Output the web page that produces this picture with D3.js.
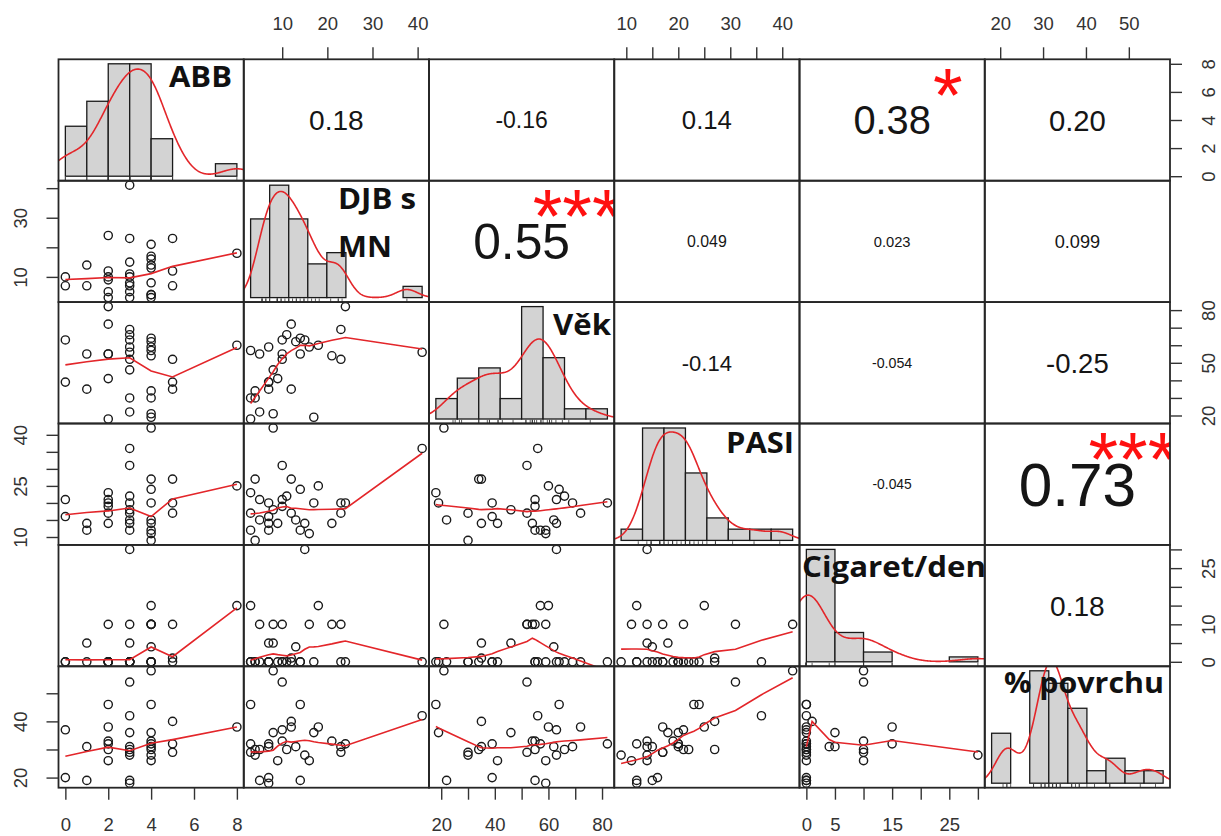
<!DOCTYPE html>
<html>
<head>
<meta charset="utf-8">
<script src="https://cdn.jsdelivr.net/npm/d3@7"></script>
<style>
  body { margin: 0; background: #fff; }
  svg text { font-family: "Liberation Sans", Arial, sans-serif; }
</style>
</head>
<body>
<script>
// one value per patient (32 rows)
var abb    = [0, 0, 1, 1, 2, 2, 2, 2, 2, 2, 3, 3, 3, 3, 3, 3, 3, 3, 3, 4, 4, 4, 4, 4, 4, 4, 4, 4, 5, 5, 5, 8];
var djb    = [10, 7, 14, 7, 24, 12, 10, 5, 9, 3, 41, 10, 15, 23, 11, 8, 3, 5, 7, 21, 17, 16, 14, 13, 8, 4, 4, 3, 23, 12, 7, 18];
var vek    = [63, 39, 55, 35, 82, 72, 55, 55, 41, 18, 56, 52, 63, 69, 66, 46, 30, 22, 59, 54, 19, 59, 64, 62, 21, 34, 30, 57, 52, 35, 39, 60];
var pasi   = [21, 16, 12, 14, 20, 17, 19, 21, 14, 23, 36, 31, 14, 20, 22, 18, 17, 15, 12, 14, 20, 11, 24, 15, 42, 27, 9, 12, 17, 27, 20, 25];
var cigs   = [0, 0, 0, 5, 0, 0, 0, 10, 0, 0, 0, 10, 30, 0, 0, 5, 0, 0, 0, 10, 0, 10, 0, 4, 10, 0, 0, 15, 10, 1, 0, 15];
var povrch = [37, 20, 19, 31, 32, 38, 33, 30, 26, 46, 42, 54, 28, 31, 30, 36, 29, 19, 18, 33, 36, 26, 46, 31, 58, 30, 28, 32, 29, 40, 32, 38];

var diagLabels = [["ABB"], ["DJB s", "MN"], ["Věk"], ["PASI"], ["Cigaret/den"], ["% povrchu"]];
var binWidths = [1, 5, 10, 5, 5, 5];

// upper triangle, row by row: (1,2) (1,3) ... (5,6)
var corLabels = ["0.18", "-0.16", "0.14", "0.38", "0.20", "0.55", "0.049", "0.023", "0.099",
                 "-0.14", "-0.054", "-0.25", "-0.045", "0.73", "0.18"];
var corStars  = ["", "", "", "*", "", "***", "", "", "", "", "", "", "", "***", ""];

var axisTicks = [[0, 2, 4, 6, 8], [10, 20, 30, 40], [20, 30, 40, 50, 60, 70, 80],
                 [10, 15, 20, 25, 30, 35, 40], [0, 5, 10, 15, 20, 25, 30], [20, 30, 40, 50]];
var xTickLabels = [[0, 2, 4, 6, 8], [10, 20, 30, 40], [20, 40, 60, 80], [10, 20, 30, 40], [0, 5, 15, 25], [20, 30, 40, 50]];
var yTickLabels = [[0, 2, 4, 6, 8], [10, 30], [20, 50, 80], [10, 25, 40], [0, 10, 25], [20, 40]];

var vars = [abb, djb, vek, pasi, cigs, povrch];
var nv = vars.length;

var width = 1221, height = 836;
var padLeft = 58.5, padTop = 59.3, pw = 185.25, ph = 121.4;
var red = "#e3262a";

var svg = d3.select("body").append("svg")
  .attr("width", width)
  .attr("height", height);
var defs = svg.append("defs");

// R pads every axis range by 4%
function padDomain(lo, hi) {
  var d = (hi - lo) * 0.04;
  return [lo - d, hi + d];
}

var xScales = vars.map(function (v, j) {
  return d3.scaleLinear().domain(padDomain(d3.min(v), d3.max(v)))
    .range([padLeft + j * pw, padLeft + (j + 1) * pw]);
});
var yScales = vars.map(function (v, i) {
  return d3.scaleLinear().domain(padDomain(d3.min(v), d3.max(v)))
    .range([padTop + (i + 1) * ph, padTop + i * ph]);
});

// stats::lowess (f = 2/3, iter = 3), port of clowess
function lowess(x, y, f, iter) {
  var n = x.length;
  var idx = d3.range(n).sort(function (a, b) { return x[a] - x[b] || a - b; });
  var X = idx.map(function (k) { return x[k]; });
  var Y = idx.map(function (k) { return y[k]; });
  var ys = new Array(n).fill(0), rw = new Array(n).fill(1),
      res = new Array(n).fill(0), w = new Array(n).fill(0);
  var ns = Math.max(Math.min(Math.round(f * n), n), 2);
  var delta = 0.01 * (X[n - 1] - X[0]);

  function lowest(xs, nleft, nright, userw) {
    var range = X[n - 1] - X[0];
    var h = Math.max(xs - X[nleft], X[nright] - xs);
    var h9 = 0.999 * h, h1 = 0.001 * h;
    var a = 0, j = nleft;
    while (j < n) {
      w[j] = 0;
      var r = Math.abs(X[j] - xs);
      if (r <= h9) {
        w[j] = r <= h1 ? 1 : Math.pow(1 - Math.pow(r / h, 3), 3);
        if (userw) w[j] *= rw[j];
        a += w[j];
      } else if (X[j] > xs) break;
      j++;
    }
    var nrt = j - 1;
    if (a <= 0) return null;
    for (j = nleft; j <= nrt; j++) w[j] /= a;
    if (h > 0) {
      a = 0;
      for (j = nleft; j <= nrt; j++) a += w[j] * X[j];
      var b = xs - a, c = 0;
      for (j = nleft; j <= nrt; j++) c += w[j] * (X[j] - a) * (X[j] - a);
      if (Math.sqrt(c) > 0.001 * range) {
        b /= c;
        for (j = nleft; j <= nrt; j++) w[j] *= (b * (X[j] - a) + 1);
      }
    }
    var s = 0;
    for (j = nleft; j <= nrt; j++) s += w[j] * Y[j];
    return s;
  }

  for (var it = 1; it <= iter + 1; it++) {
    var nleft = 0, nright = ns - 1, last = -1, i = 0;
    for (;;) {
      if (nright < n - 1) {
        var d1 = X[i] - X[nleft], d2 = X[nright + 1] - X[i];
        if (d1 > d2) { nleft++; nright++; continue; }
      }
      var v = lowest(X[i], nleft, nright, it > 1);
      ys[i] = v === null ? Y[i] : v;
      if (last < i - 1) {
        var denom = X[i] - X[last];
        for (var j = last + 1; j < i; j++) {
          var alpha = (X[j] - X[last]) / denom;
          ys[j] = alpha * ys[i] + (1 - alpha) * ys[last];
        }
      }
      last = i;
      var cut = X[last] + delta;
      for (i = last + 1; i < n; i++) {
        if (X[i] > cut) break;
        if (X[i] === X[last]) { ys[i] = ys[last]; last = i; }
      }
      i = Math.max(last + 1, i - 1);
      if (last >= n - 1) break;
    }
    for (i = 0; i < n; i++) res[i] = Y[i] - ys[i];
    if (it > iter) break;
    var ar = res.map(Math.abs);
    var sc = d3.sum(ar) / n;
    var cmad = 6 * d3.median(ar);
    if (cmad < 1e-7 * sc) break;
    var c9 = 0.999 * cmad, c1 = 0.001 * cmad;
    for (i = 0; i < n; i++) {
      var r = ar[i];
      rw[i] = r <= c1 ? 1 : (r <= c9 ? Math.pow(1 - (r / cmad) * (r / cmad), 2) : 0);
    }
  }
  return X.map(function (xv, k) { return [xv, ys[k]]; });
}

// density() with bw.nrd0, gaussian kernel
function kde(v) {
  var n = v.length;
  var hi = d3.deviation(v);
  var iqr = d3.quantile(v, 0.75) - d3.quantile(v, 0.25);
  var lo = Math.min(hi, iqr / 1.34) || hi || Math.abs(v[0]) || 1;
  var bw = 0.9 * lo * Math.pow(n, -0.2);
  var from = d3.min(v) - 3 * bw, to = d3.max(v) + 3 * bw;
  return d3.range(512).map(function (k) {
    var xv = from + (to - from) * k / 511;
    var s = d3.sum(v, function (d) { var z = (xv - d) / bw; return Math.exp(-0.5 * z * z); });
    return [xv, s / (n * bw * Math.sqrt(2 * Math.PI))];
  });
}

// hist(), right-closed bins, probability = TRUE
function histogram(v, step) {
  var b0 = Math.floor(d3.min(v) / step) * step;
  var b1 = Math.ceil(d3.max(v) / step) * step;
  var breaks = d3.range(b0, b1 + step / 2, step);
  var counts = breaks.slice(1).map(function () { return 0; });
  v.forEach(function (d) {
    var k = 0;
    while (k < counts.length - 1 && d > breaks[k + 1]) k++;
    counts[k]++;
  });
  return breaks.slice(1).map(function (b, k) {
    return { x0: breaks[k], x1: b, density: counts[k] / (v.length * step) };
  });
}

// text probe for sizing the correlation numbers
var probe = svg.append("text").style("font-size", "100px").attr("x", -999).attr("y", -999);
function unitWidth(s) {
  probe.text(s);
  return probe.node().getComputedTextLength() / 100;
}

var line = d3.line();
var k = 0;

for (var i = 0; i < nv; i++) {
  for (var j = 0; j < nv; j++) {
    var x0 = padLeft + j * pw, y0 = padTop + i * ph;
    var id = "clip-" + i + "-" + j;
    defs.append("clipPath").attr("id", id)
      .append("rect").attr("x", x0).attr("y", y0).attr("width", pw).attr("height", ph);
    var g = svg.append("g").attr("clip-path", "url(#" + id + ")");

    if (i > j) {
      // scatter + lowess
      var xs = xScales[j], ys = yScales[i], vx = vars[j], vy = vars[i];
      g.selectAll("circle")
        .data(d3.range(vx.length))
        .enter()
        .append("circle")
        .attr("cx", function (d) { return xs(vx[d]); })
        .attr("cy", function (d) { return ys(vy[d]); })
        .attr("r", 4.1)
        .attr("fill", "none")
        .attr("stroke", "#1a1a1a")
        .attr("stroke-width", 1.4);
      g.append("path")
        .attr("d", line(lowess(vx, vy, 2 / 3, 3).map(function (p) { return [xs(p[0]), ys(p[1])]; })))
        .attr("fill", "none")
        .attr("stroke", red)
        .attr("stroke-width", 1.6);
    } else if (i === j) {
      // histogram, density and rug
      var v = vars[i];
      var bins = histogram(v, binWidths[i]);
      var mx = d3.max(bins, function (b) { return b.density; });
      var hx = d3.scaleLinear().domain(padDomain(bins[0].x0, bins[bins.length - 1].x1)).range([x0, x0 + pw]);
      var hy = d3.scaleLinear().domain([-0.04 * mx, 1.04 * mx]).range([y0 + ph, y0]);
      g.selectAll("rect.bar")
        .data(bins.filter(function (b) { return b.density > 0; }))
        .enter()
        .append("rect")
        .attr("class", "bar")
        .attr("x", function (b) { return hx(b.x0); })
        .attr("width", function (b) { return hx(b.x1) - hx(b.x0); })
        .attr("y", function (b) { return hy(b.density); })
        .attr("height", function (b) { return hy(0) - hy(b.density); })
        .attr("fill", "#d3d3d3")
        .attr("stroke", "#1a1a1a")
        .attr("stroke-width", 1.3);
      g.append("path")
        .attr("d", line(kde(v).map(function (p) { return [hx(p[0]), hy(p[1])]; })))
        .attr("fill", "none")
        .attr("stroke", red)
        .attr("stroke-width", 1.6);
      g.selectAll("line.rug")
        .data(v)
        .enter()
        .append("line")
        .attr("class", "rug")
        .attr("x1", function (d) { return hx(d); })
        .attr("x2", function (d) { return hx(d); })
        .attr("y1", y0 + ph)
        .attr("y2", y0 + ph - 0.03 * ph)
        .attr("stroke", "#333")
        .attr("stroke-width", 0.8);
    } else {
      // correlation text, sized like PerformanceAnalytics panel.cor
      var txt = corLabels[k], r = Math.abs(+txt);
      var full = 0.8 * pw / unitWidth(txt);
      var fs = full * (r + 0.3) / 1.3;
      g.append("text")
        .attr("x", x0 + pw / 2)
        .attr("y", y0 + ph / 2 + 0.36 * fs)
        .attr("text-anchor", "middle")
        .style("font-size", fs + "px")
        .attr("fill", "#151515")
        .text(txt);
      if (corStars[k]) {
        g.append("text")
          .attr("x", x0 + 0.8 * pw)
          .attr("y", y0 + 0.2 * ph + 0.49 * full)
          .attr("text-anchor", "middle")
          .style("font-size", full + "px")
          .attr("fill", "#ff1010")
          .text(corStars[k]);
      }
      k++;
    }
  }
}
probe.remove();

// panel boxes
for (var i = 0; i < nv; i++) {
  for (var j = 0; j < nv; j++) {
    svg.append("rect")
      .attr("x", padLeft + j * pw).attr("y", padTop + i * ph)
      .attr("width", pw).attr("height", ph)
      .attr("fill", "none").attr("stroke", "#262626").attr("stroke-width", 1.8);
  }
}

// axes, alternating sides as in pairs()
function fmt(labels) {
  return function (d) { return labels.indexOf(d) >= 0 ? d : ""; };
}
function styleAxis(sel) {
  sel.select(".domain").remove();
  sel.selectAll(".tick line").attr("stroke", "#333").attr("stroke-width", 1.4);
  sel.selectAll(".tick text")
    .style("font-size", "18.5px")
    .attr("fill", "#333");
}

for (var j = 0; j < nv; j++) {
  var ax;
  if (j % 2 === 1) {
    ax = svg.append("g").attr("transform", "translate(0," + padTop + ")")
      .call(d3.axisTop(xScales[j]).tickValues(axisTicks[j]).tickSize(12).tickFormat(fmt(xTickLabels[j])));
    styleAxis(ax);
    ax.selectAll(".tick text").attr("y", -36).attr("dy", "0.36em");
  } else {
    ax = svg.append("g").attr("transform", "translate(0," + (padTop + nv * ph) + ")")
      .call(d3.axisBottom(xScales[j]).tickValues(axisTicks[j]).tickSize(12).tickFormat(fmt(xTickLabels[j])));
    styleAxis(ax);
    ax.selectAll(".tick text").attr("y", 37).attr("dy", "0.36em");
  }
}

for (var i = 0; i < nv; i++) {
  var ay;
  if (i % 2 === 1) {
    ay = svg.append("g").attr("transform", "translate(" + padLeft + ",0)")
      .call(d3.axisLeft(yScales[i]).tickValues(axisTicks[i]).tickSize(12).tickFormat(fmt(yTickLabels[i])));
    styleAxis(ay);
    ay.selectAll(".tick text")
      .attr("x", null).attr("dy", "0.36em")
      .attr("text-anchor", "middle")
      .attr("transform", "translate(-38.5,0) rotate(-90)");
  } else {
    ay = svg.append("g").attr("transform", "translate(" + (padLeft + nv * pw) + ",0)")
      .call(d3.axisRight(yScales[i]).tickValues(axisTicks[i]).tickSize(12).tickFormat(fmt(yTickLabels[i])));
    styleAxis(ay);
    ay.selectAll(".tick text")
      .attr("x", null).attr("dy", "0.36em")
      .attr("text-anchor", "middle")
      .attr("transform", "translate(38.5,0) rotate(-90)");
  }
}

// variable names written over the diagonal panels
var labelPlaces = [
  [{ x: 169, y: 87, w: 63 }],
  [{ x: 338, y: 209, w: 78 }, { x: 338, y: 257, w: 54 }],
  [{ x: 553, y: 335, w: 58 }],
  [{ x: 726, y: 453, w: 68 }],
  [{ x: 802, y: 577, w: 184 }],
  [{ x: 1004, y: 693, w: 160 }]
];
diagLabels.forEach(function (lines, i) {
  lines.forEach(function (s, l) {
    var p = labelPlaces[i][l];
    svg.append("text")
      .attr("x", p.x)
      .attr("y", p.y)
      .attr("textLength", p.w)
      .attr("lengthAdjust", "spacingAndGlyphs")
      .style("font-family", "'Open Sans', 'Noto Sans', sans-serif")
      .style("font-weight", "bold")
      .style("font-size", "29px")
      .attr("fill", "#111")
      .text(s);
  });
});
</script>
</body>
</html>
